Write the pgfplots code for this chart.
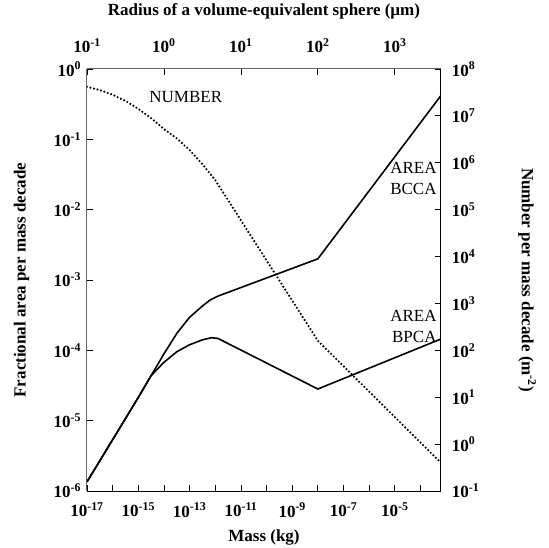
\documentclass[border=0pt]{standalone}
\usepackage{fontspec}
\setmainfont{Liberation Serif}
\usepackage{pgfplots}
\pgfplotsset{compat=1.18}
\newcommand{\tenp}[1]{\textbf{10}\textsuperscript{\textbf{#1}}}
\colorlet{axgray}{black!60}
\begin{document}
\fontsize{17}{20}\selectfont
\begin{tikzpicture}
\begin{axis}[name=ax,
  width=354pt, height=422pt, scale only axis,
  xmode=log, ymode=log, xmin=1e-17, xmax=6.31e-4,
  ymin=1e-6, ymax=1,
  axis x line*=bottom, axis y line*=left,
  x axis line style={black, line width=1pt, -},
  y axis line style={axgray, line width=1pt, -},
  tick align=inside, major tick length=6pt, minor tick length=6pt,
  every tick/.style={black, line width=0.8pt},
  xlabel style={font=\fontsize{17}{20}\selectfont\bfseries, at={(rel axis cs:0.5,-0.109)}, anchor=center},
  ylabel style={font=\fontsize{17}{20}\selectfont\bfseries, at={(rel axis cs:-0.185,0.5)}, anchor=center, rotate=0},
  xticklabel style={yshift=-6pt},
  xtick={1e-17,1e-15,1e-13,1e-11,1e-9,1e-7,1e-5},
  xticklabels={\tenp{-17},\tenp{-15},\tenp{-13},\tenp{-11},\tenp{-9},\tenp{-7},\tenp{-5}},
  minor xtick={1e-16,1e-14,1e-12,1e-10,1e-8,1e-6,1e-4},
  yminorticks=false,
  ytick={1e-6,1e-5,1e-4,1e-3,1e-2,1e-1,1},
  yticklabels={\tenp{-6},\tenp{-5},\tenp{-4},\tenp{-3},\tenp{-2},\tenp{-1},\tenp{0}},
  xlabel={Mass (kg)},
  ylabel={Fractional area per mass decade},
]
% BCCA
\addplot[black, line width=1.6pt] coordinates {
 (1e-17,1.35e-6) (3.162e-17,2.69e-6) (1e-16,5.37e-6) (3.162e-16,1.07e-5)
 (1e-15,2.14e-5) (3.162e-15,4.37e-5) (1e-14,8.91e-5) (3.162e-14,1.74e-4)
 (1e-13,2.95e-4) (3.162e-13,4.27e-4) (6.31e-13,5.19e-4) (1.259e-12,5.89e-4)
 (1e-8,2.0e-3) (6.31e-4,0.42)
};
% BPCA
\addplot[black, line width=1.6pt] coordinates {
 (1e-17,1.35e-6) (3.162e-17,2.69e-6) (1e-16,5.37e-6) (3.162e-16,1.07e-5)
 (1e-15,2.14e-5) (3.162e-15,4.37e-5) (1e-14,6.76e-5) (3.162e-14,9.55e-5)
 (1e-13,1.20e-4) (3.162e-13,1.41e-4) (7.08e-13,1.51e-4) (1.259e-12,1.48e-4)
 (1e-8,2.82e-5) (6.31e-4,1.45e-4)
};
\node[anchor=center] at (rel axis cs:0.279,0.934) {NUMBER};
\node[anchor=east, align=right, inner sep=0pt, font=\fontsize{17}{21}\selectfont] at (rel axis cs:0.988,0.741) {AREA\\BCCA};
\node[anchor=east, align=right, inner sep=0pt, font=\fontsize{17}{21}\selectfont] at (rel axis cs:0.988,0.389) {AREA\\BPCA};
\end{axis}
\begin{axis}[
  width=354pt, height=422pt, scale only axis,
  xmode=log, ymode=log, xmin=1e-17, xmax=6.31e-4,
  ymin=0.1, ymax=1e8,
  axis x line*=top, axis y line*=right,
  x axis line style={axgray, line width=1pt, -},
  y axis line style={black, line width=1pt, -},
  tick align=inside, major tick length=6pt,
  every tick/.style={black, line width=0.8pt},
  xlabel style={font=\fontsize{17}{20}\selectfont\bfseries, at={(rel axis cs:0.5,1.136)}, anchor=center},
  ylabel style={font=\fontsize{17}{20}\selectfont\bfseries, at={(rel axis cs:1.243,0.5)}, anchor=center, rotate=180},
  xticklabel style={yshift=10pt},
  yticklabel style={xshift=5pt},
  xminorticks=false, yminorticks=false,
  xtick={1e-17,1e-14,1e-11,1e-8,1e-5},
  xticklabels={\tenp{-1},\tenp{0},\tenp{1},\tenp{2},\tenp{3}},
  ytick={1e-1,1,1e1,1e2,1e3,1e4,1e5,1e6,1e7,1e8},
  yticklabels={\tenp{-1},\tenp{0},\tenp{1},\tenp{2},\tenp{3},\tenp{4},\tenp{5},\tenp{6},\tenp{7},\tenp{8}},
  xlabel={Radius of a volume-equivalent sphere (µm)},
  ylabel={Number per mass decade (m\textsuperscript{-2})},
]
% NUMBER
\addplot[black, line width=2.4pt, line cap=round, dash pattern=on 0pt off 3.6pt] coordinates {
 (1e-17,4.17e7) (3.162e-17,3.55e7) (1e-16,2.82e7) (3.162e-16,2.09e7)
 (1e-15,1.41e7) (3.162e-15,8.91e6) (1e-14,5.25e6) (3.162e-14,3.31e6)
 (1e-13,1.86e6) (3.162e-13,9.33e5) (1e-12,4.27e5)
 (1e-8,160) (6.31e-4,0.398)
};
\end{axis}
\pgfresetboundingbox
\path (ax.south west) ++(-87pt,-57pt) rectangle ++(549pt,548pt);
\end{tikzpicture}
\end{document}
